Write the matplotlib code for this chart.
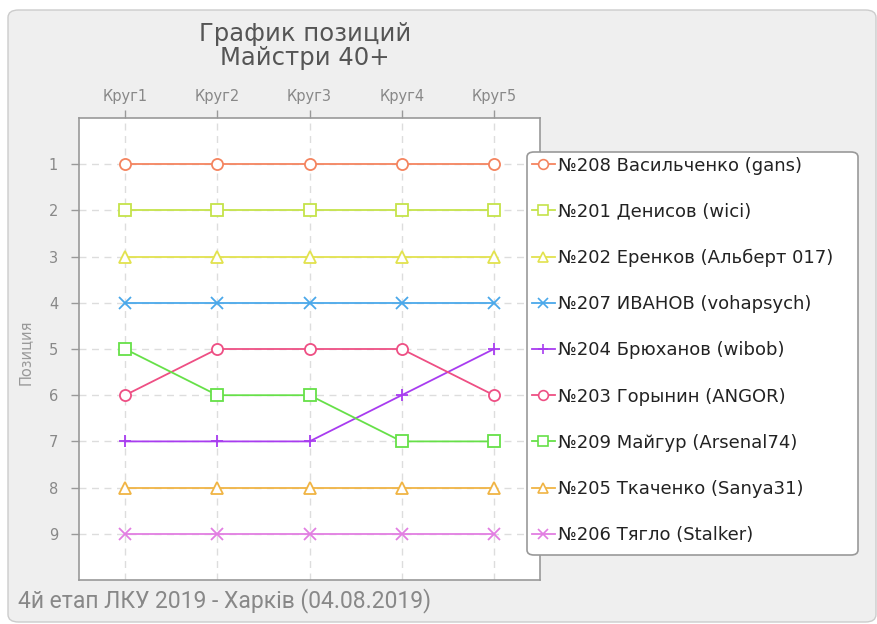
import matplotlib
matplotlib.use('Agg')
import matplotlib.pyplot as plt
from matplotlib.patches import FancyBboxPatch
from matplotlib.lines import Line2D

# data
rounds = ['Круг1', 'Круг2', 'Круг3', 'Круг4', 'Круг5']
names = ['№208 Васильченко (gans)', '№201 Денисов (wici)', '№202 Еренков (Альберт 017)',
         '№207 ИВАНОВ (vohapsych)', '№204 Брюханов (wibob)', '№203 Горынин (ANGOR)',
         '№209 Майгур (Arsenal74)', '№205 Ткаченко (Sanya31)', '№206 Тягло (Stalker)']
pos_208 = [1, 1, 1, 1, 1]
pos_201 = [2, 2, 2, 2, 2]
pos_202 = [3, 3, 3, 3, 3]
pos_207 = [4, 4, 4, 4, 4]
pos_204 = [7, 7, 7, 6, 5]
pos_203 = [6, 5, 5, 5, 6]
pos_209 = [5, 6, 6, 7, 7]
pos_205 = [8, 8, 8, 8, 8]
pos_206 = [9, 9, 9, 9, 9]
positions = [pos_208, pos_201, pos_202, pos_207, pos_204, pos_203, pos_209, pos_205, pos_206]

colors = ['#f4845f', '#c5e34a', '#e2e24e', '#4aa8ea', '#a83cf0', '#ee4f84', '#66e048', '#f0b444', '#e27ee2']
markers = ['o', 's', '^', 'x', '+', 'o', 's', '^', 'x']

W, H = 877, 624
fig = plt.figure(figsize=(W / 100, H / 100), dpi=100)
fig.patch.set_facecolor('white')

# rounded gray panel behind everything
panel = FancyBboxPatch((8 / W, 1 - 622 / H), 868 / W, 612 / H,
                       boxstyle='round,pad=0,rounding_size=0.012',
                       transform=fig.transFigure, facecolor='#efefef',
                       edgecolor='#cccccc', lw=1, zorder=-10)
fig.patches.append(panel)

ax = fig.add_axes([79 / W, 1 - 580 / H, 461 / W, 462 / H])
ax.set_facecolor('white')
x = list(range(1, len(rounds) + 1))
for p, c, m in zip(positions, colors, markers):
    ax.plot(x, p, color=c, marker=m, ms=8, mfc='white', mec=c, mew=1.3, lw=1.3, zorder=3)

ax.set_xlim(0.5, 5.5)
ax.set_ylim(10, 0)
ax.set_xticks(x)
ax.set_xticklabels(rounds)
ax.set_yticks(range(1, 10))
ax.xaxis.tick_top()
ax.tick_params(axis='both', colors='#999999', labelcolor='#888888', labelsize=10.5, length=6, width=1)
ax.tick_params(axis='x', pad=4)
ax.tick_params(axis='y', pad=9)
ax.grid(True, color='#dddddd', ls=(0, (5, 4)), lw=1)
ax.set_axisbelow(True)
for s in ax.spines.values():
    s.set_color('#999999')
    s.set_linewidth(1.2)

fig.text(25 / W, 1 - 352 / H, 'Позиция', rotation=90, ha='center', va='center', color='#999999', fontsize=10.5)

fig.text(305 / W, 1 - 46 / H, 'График позиций\nМайстри 40+', ha='center', va='center',
         color='#555555', fontsize=17.5, linespacing=0.95)

fig.text(18 / W, 1 - 601 / H, '4й етап ЛКУ 2019 - Харків (04.08.2019)', ha='left', va='center',
         color='#888888', fontsize=16.5, family=['Roboto', 'DejaVu Sans'])

# legend box drawn by hand so it matches the reference frame
box = FancyBboxPatch((527 / W, 1 - 555 / H), 331 / W, 403 / H,
                     boxstyle='round,pad=0,rounding_size=0.008',
                     transform=fig.transFigure, facecolor='white',
                     edgecolor='#999999', lw=1.2, zorder=5)
fig.patches.append(box)

handles = [Line2D([], [], color=c, marker=m, ms=7, mfc='white', mec=c, mew=1.2, lw=1.3)
           for c, m in zip(colors, markers)]
leg = fig.legend(handles, names, loc='upper left', bbox_to_anchor=(527 / W, 1 - 152 / H),
                 bbox_transform=fig.transFigure, fontsize=13, labelspacing=1.56,
                 handlelength=1.3, handletextpad=0.15, borderpad=0.25, borderaxespad=0,
                 frameon=False)
leg.set_zorder(6)
for t in leg.get_texts():
    t.set_color('#222222')

fig.savefig('out.png', dpi=100, facecolor='white')
